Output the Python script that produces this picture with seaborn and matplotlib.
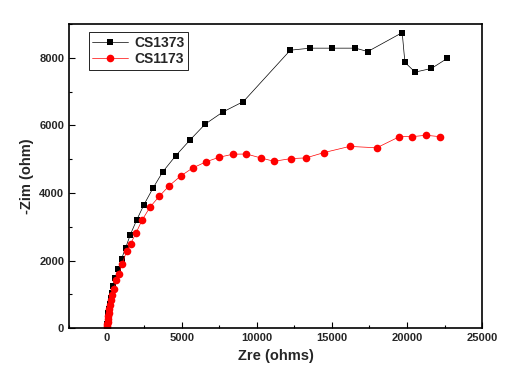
# -*- coding:UTF-8 -*-
import matplotlib
matplotlib.use('Agg')
from matplotlib import pyplot as plt
from matplotlib.ticker import MultipleLocator
import seaborn as sns
import pandas as pd

# CS1373 (black squares)
zre_1373 = [30, 40, 60, 80, 110, 150, 200, 260, 330, 420, 550, 780, 1000, 1260,
            1570, 1990, 2480, 3080, 3740, 4610, 5560, 6560, 7740, 9110, 12230,
            13560, 14980, 16560, 17390, 19680, 19860, 20540, 21630, 22690]
zim_1373 = [50, 120, 220, 330, 450, 580, 720, 880, 1050, 1240, 1470, 1740, 2060,
            2370, 2760, 3190, 3650, 4140, 4630, 5110, 5575, 6040, 6400, 6710,
            8230, 8290, 8290, 8290, 8190, 8750, 7870, 7580, 7690, 7990]

# CS1173 (red circles)
zre_1173 = [20, 30, 40, 60, 80, 100, 140, 180, 230, 300, 380, 490, 640, 820, 1020,
            1330, 1600, 1970, 2350, 2900, 3500, 4150, 4920, 5720, 6600, 7490, 8420,
            9310, 10300, 11140, 12280, 13270, 14490, 16180, 17990, 19500, 20350,
            21260, 22180]
zim_1173 = [10, 50, 110, 180, 260, 350, 450, 560, 680, 820, 980, 1170, 1420, 1610,
            1890, 2270, 2500, 2830, 3190, 3590, 3900, 4210, 4500, 4740, 4920, 5060,
            5150, 5155, 5035, 4940, 5020, 5040, 5200, 5380, 5340, 5670, 5670, 5710,
            5670]

sns.set_style('white')
plt.rcParams['font.family'] = ['Liberation Sans', 'DejaVu Sans']
plt.rcParams['font.weight'] = 'bold'

df1 = pd.DataFrame({'Zre': zre_1373, 'Zim': zim_1373})
df2 = pd.DataFrame({'Zre': zre_1173, 'Zim': zim_1173})

fig = plt.figure(figsize=(5.08, 3.72), dpi=100)
ax = fig.add_axes([0.136, 0.118, 0.813, 0.817])

sns.lineplot(data=df1, x='Zre', y='Zim', sort=False, estimator=None, ax=ax,
             color='black', lw=0.5, marker='s', markersize=4.5,
             markeredgewidth=0, label='CS1373')
sns.lineplot(data=df2, x='Zre', y='Zim', sort=False, estimator=None, ax=ax,
             color='red', lw=0.5, marker='o', markersize=5.5,
             markeredgewidth=0, label='CS1173')

ax.set_xlim(-2500, 25000)
ax.set_ylim(0, 9000)
ax.xaxis.set_major_locator(MultipleLocator(5000))
ax.xaxis.set_minor_locator(MultipleLocator(2500))
ax.yaxis.set_major_locator(MultipleLocator(2000))
ax.yaxis.set_minor_locator(MultipleLocator(1000))
ax.tick_params(which='both', direction='in', bottom=True, left=True,
               top=False, right=False, labelsize=8, color='black')
ax.tick_params(which='major', length=4, width=0.8)
ax.tick_params(which='minor', length=2.5, width=0.8)
for lab in ax.get_xticklabels() + ax.get_yticklabels():
    lab.set_fontweight('bold')
for sp in ax.spines.values():
    sp.set_visible(True)
    sp.set_color('black')
    sp.set_linewidth(1.2)

ax.set_xlabel('Zre (ohms)', fontsize=10.5, fontweight='bold')
ax.set_ylabel('-Zim (ohm)', fontsize=10.5, fontweight='bold')

leg = ax.legend(loc='upper left', bbox_to_anchor=(0.048, 0.974), borderaxespad=0,
                fancybox=False, edgecolor='black', framealpha=1,
                prop={'size': 10, 'weight': 'bold'}, handlelength=2.6,
                borderpad=0.25, labelspacing=0.2, handletextpad=0.4)
leg.get_frame().set_linewidth(0.6)

fig.savefig('out.png', dpi=100)
